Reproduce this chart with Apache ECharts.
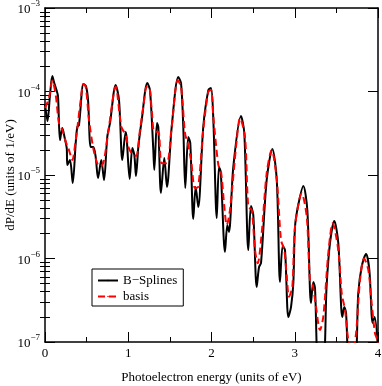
<!DOCTYPE html>
<html>
<head>
<meta charset="utf-8">
<script src="https://cdn.jsdelivr.net/npm/echarts@6/dist/echarts.min.js"></script>
<style>
  html, body { margin: 0; padding: 0; background: #fff; }
  #chart { width: 382px; height: 386px; }
</style>
</head>
<body>
<div id="chart"></div>
<script>
// tick labels
var xTicks = [0, 1, 2, 3, 4];
var yTicks = [1e-7, 1e-6, 1e-5, 1e-4, 1e-3];
var yTickExp = ['\u22127', '\u22126', '\u22125', '\u22124', '\u22123'];
var yMinorTicks = [2e-7, 3e-7, 4e-7, 5e-7, 6e-7, 7e-7, 8e-7, 9e-7,
                   2e-6, 3e-6, 4e-6, 5e-6, 6e-6, 7e-6, 8e-6, 9e-6,
                   2e-5, 3e-5, 4e-5, 5e-5, 6e-5, 7e-5, 8e-5, 9e-5,
                   2e-4, 3e-4, 4e-4, 5e-4, 6e-4, 7e-4, 8e-4, 9e-4];

// B-Splines (black solid)
var bsplineX = [0.000, 0.030, 0.060, 0.088, 0.108, 0.138, 0.156, 0.180, 0.208, 0.237,
                0.261, 0.268, 0.300, 0.333, 0.369, 0.388, 0.408, 0.462, 0.492, 0.517,
                0.549, 0.580, 0.609, 0.637, 0.676, 0.709, 0.748, 0.781, 0.849, 0.889,
                0.929, 0.969, 0.981, 1.017, 1.049, 1.073, 1.093, 1.121, 1.162, 1.229,
                1.261, 1.301, 1.313, 1.345, 1.361, 1.393, 1.433, 1.465, 1.522, 1.601,
                1.634, 1.661, 1.685, 1.721, 1.745, 1.781, 1.810, 1.841, 1.901, 1.962,
                1.994, 2.022, 2.063, 2.090, 2.111, 2.162, 2.190, 2.210, 2.262, 2.354,
                2.394, 2.442, 2.474, 2.502, 2.543, 2.571, 2.595, 2.663, 2.731, 2.784,
                2.823, 2.855, 2.883, 2.923, 2.955, 2.983, 3.003, 3.042, 3.103, 3.151,
                3.195, 3.223, 3.243, 3.283, 3.343, 3.382, 3.423, 3.475, 3.523, 3.571,
                3.595, 3.616, 3.655, 3.724, 3.763, 3.804, 3.856, 3.896, 3.936, 3.960,
                4.000];
var bsplineY = [7.08e-5, 4.44e-5, 9.08e-5, 1.53e-4, 1.30e-4, 1.04e-4, 8.83e-5, 2.62e-5, 3.65e-5, 2.77e-5,
                2.10e-5, 1.32e-5, 1.51e-5, 8.02e-6, 2.42e-5, 3.76e-5, 3.97e-5, 1.23e-4, 1.16e-4, 7.91e-5,
                2.16e-5, 2.16e-5, 1.64e-5, 9.20e-6, 1.51e-5, 8.71e-6, 2.85e-5, 4.20e-5, 1.20e-4, 7.91e-5,
                1.51e-5, 3.27e-5, 2.77e-5, 8.95e-6, 2.10e-5, 1.74e-5, 9.72e-6, 2.16e-5, 4.56e-5, 1.26e-4,
                1.04e-4, 1.99e-5, 1.15e-5, 4.20e-5, 3.76e-5, 6.08e-6, 1.60e-5, 7.18e-6, 3.76e-5, 1.49e-4,
                1.26e-4, 3.76e-5, 6.98e-6, 2.85e-5, 2.42e-5, 2.97e-6, 7.18e-6, 4.14e-6, 3.76e-5, 1.04e-4,
                1.10e-4, 4.56e-5, 3.05e-6, 1.25e-5, 1.09e-5, 1.20e-6, 2.52e-6, 2.08e-6, 1.25e-5, 5.09e-5,
                3.18e-5, 1.26e-6, 4.26e-6, 3.32e-6, 4.56e-7, 7.91e-7, 8.83e-7, 8.71e-6, 2.05e-5, 8.71e-6,
                5.24e-7, 1.41e-6, 1.26e-6, 1.99e-7, 2.62e-7, 5.09e-7, 2.38e-6, 4.37e-6, 7.38e-6, 3.81e-6,
                2.93e-7, 5.24e-7, 4.44e-7, 6.0e-8, 6.0e-8, 4.56e-7, 1.53e-6, 2.81e-6, 1.53e-6, 1.99e-7,
                2.62e-7, 2.22e-7, 6.0e-8, 6.0e-8, 3.83e-7, 7.98e-7, 1.13e-6, 7.28e-7, 1.69e-7, 1.99e-7,
                8.0e-8];

// basis (red dashed)
var basisX = [0.000, 0.048, 0.088, 0.129, 0.168, 0.208, 0.249, 0.288, 0.328, 0.369,
              0.388, 0.429, 0.460, 0.489, 0.529, 0.580, 0.628, 0.669, 0.709, 0.769,
              0.849, 0.917, 0.969, 1.001, 1.041, 1.093, 1.141, 1.181, 1.222, 1.249,
              1.282, 1.313, 1.361, 1.402, 1.462, 1.522, 1.594, 1.634, 1.682, 1.714,
              1.754, 1.802, 1.841, 1.901, 1.962, 1.994, 2.022, 2.082, 2.114, 2.154,
              2.183, 2.222, 2.303, 2.342, 2.402, 2.442, 2.483, 2.523, 2.555, 2.603,
              2.663, 2.723, 2.784, 2.835, 2.875, 2.904, 2.931, 2.971, 3.003, 3.084,
              3.144, 3.183, 3.216, 3.255, 3.303, 3.343, 3.403, 3.456, 3.523, 3.564,
              3.604, 3.643, 3.684, 3.732, 3.784, 3.832, 3.884, 3.924, 3.964, 3.992,
              4.000];
var basisY = [6.34e-5, 8.36e-5, 1.35e-4, 9.08e-5, 4.20e-5, 3.46e-5, 2.51e-5, 1.99e-5, 1.51e-5, 2.62e-5,
              3.62e-5, 7.91e-5, 1.23e-4, 1.14e-4, 4.56e-5, 2.09e-5, 1.38e-5, 1.26e-5, 1.51e-5, 3.79e-5,
              1.14e-4, 3.79e-5, 3.01e-5, 2.18e-5, 1.82e-5, 1.69e-5, 3.46e-5, 6.58e-5, 1.14e-4, 1.14e-4,
              6.00e-5, 3.30e-5, 3.30e-5, 1.38e-5, 1.38e-5, 3.79e-5, 1.35e-4, 1.14e-4, 3.15e-5, 2.40e-5,
              1.51e-5, 6.93e-6, 7.25e-6, 3.46e-5, 9.95e-5, 1.04e-4, 4.99e-5, 1.32e-5, 1.10e-5, 4.17e-6,
              2.52e-6, 3.81e-6, 2.62e-5, 4.78e-5, 2.88e-5, 4.17e-6, 3.81e-6, 1.26e-6, 8.75e-7, 2.00e-6,
              1.05e-5, 1.99e-5, 8.71e-6, 1.67e-6, 1.26e-6, 6.05e-7, 3.49e-7, 4.59e-7, 2.40e-6, 6.04e-6,
              3.17e-6, 5.53e-7, 4.82e-7, 2.65e-7, 1.39e-7, 2.01e-7, 1.15e-6, 2.64e-6, 1.26e-6, 3.83e-7,
              2.42e-7, 1.06e-7, 8.0e-8, 1.16e-7, 5.53e-7, 1.00e-6, 7.28e-7, 2.90e-7, 1.27e-7, 1.06e-7,
              9.0e-8];

var serif = 'Liberation Serif';

function pairs(xs, ys) {
    var out = [];
    for (var i = 0; i < xs.length; i++) out.push([xs[i], ys[i]]);
    return out;
}

function expLabel(v) {
    for (var i = 0; i < yTicks.length; i++) {
        if (Math.abs(Math.log10(v) - Math.log10(yTicks[i])) < 0.01) {
            return '{b|10}{s|' + yTickExp[i] + '}';
        }
    }
    return '';
}

var frameLine = { show: true, onZero: false, lineStyle: { color: '#000', width: 1.5 } };
var tickStyle = { color: '#000', width: 1 };

function xAx(pos, withLabels) {
    return {
        type: 'value', position: pos, min: 0, max: 4, interval: 1,
        axisLine: frameLine,
        axisTick: { show: true, inside: true, length: 10, lineStyle: tickStyle },
        minorTick: { show: true, splitNumber: 2, length: 5, lineStyle: tickStyle },
        splitLine: { show: false },
        axisLabel: {
            show: withLabels, margin: 5, color: '#000',
            fontFamily: serif, fontSize: 13,
            customValues: xTicks
        },
        name: withLabels ? 'Photoelectron energy (units of eV)' : '',
        nameLocation: 'middle', nameGap: 29, nameMoveOverlap: false,
        nameTextStyle: { fontFamily: serif, fontSize: 13, color: '#000' }
    };
}

function yAx(pos, minor, withLabels) {
    return {
        type: 'log', logBase: 10, position: pos, min: 1e-7, max: 1e-3,
        axisLine: minor ? { show: false } : frameLine,
        axisTick: {
            show: true, inside: true, length: minor ? 5 : 10,
            lineStyle: tickStyle, customValues: minor ? yMinorTicks : yTicks
        },
        splitLine: { show: false },
        axisLabel: {
            show: withLabels, margin: 5, customValues: yTicks,
            formatter: expLabel,
            rich: {
                b: { fontFamily: serif, fontSize: 13, color: '#000', verticalAlign: 'bottom' },
                s: { fontFamily: serif, fontSize: 9, color: '#000', verticalAlign: 'bottom', padding: [0, 0, 8, 0] }
            }
        },
        name: withLabels ? 'dP/dE (units of 1/eV)' : '',
        nameLocation: 'middle', nameGap: 28, nameMoveOverlap: false,
        nameTextStyle: { fontFamily: serif, fontSize: 13, color: '#000' }
    };
}

var myChart = echarts.init(document.getElementById('chart'), null, { renderer: 'canvas' });

var option = {
    animation: false,
    backgroundColor: '#fff',
    grid: { left: 45, right: 4, top: 8, bottom: 44, outerBoundsMode: 'none', containLabel: false },
    legend: {
        orient: 'vertical', left: 92, top: 269,
        data: ['B\u2212Splines', 'basis'],
        borderColor: '#000', borderWidth: 1,
        padding: [5, 6, 3, 5],
        itemWidth: 20, itemHeight: 2, itemGap: 3,
        textStyle: { fontFamily: serif, fontSize: 13, color: '#000' }
    },
    xAxis: [xAx('bottom', true), xAx('top', false)],
    yAxis: [yAx('left', false, true), yAx('left', true, false), yAx('right', false, false), yAx('right', true, false)],
    series: [
        {
            name: 'B\u2212Splines', type: 'line', symbol: 'none', smooth: 0.3, clip: true,
            data: pairs(bsplineX, bsplineY),
            lineStyle: { color: '#000', width: 2 },
            itemStyle: { color: '#000' }
        },
        {
            name: 'basis', type: 'line', symbol: 'none', smooth: 0.3, clip: true,
            data: pairs(basisX, basisY),
            lineStyle: { color: '#ff0000', width: 2, type: [7, 4] },
            itemStyle: { color: '#ff0000' }
        }
    ]
};

myChart.setOption(option);
</script>
</body>
</html>
